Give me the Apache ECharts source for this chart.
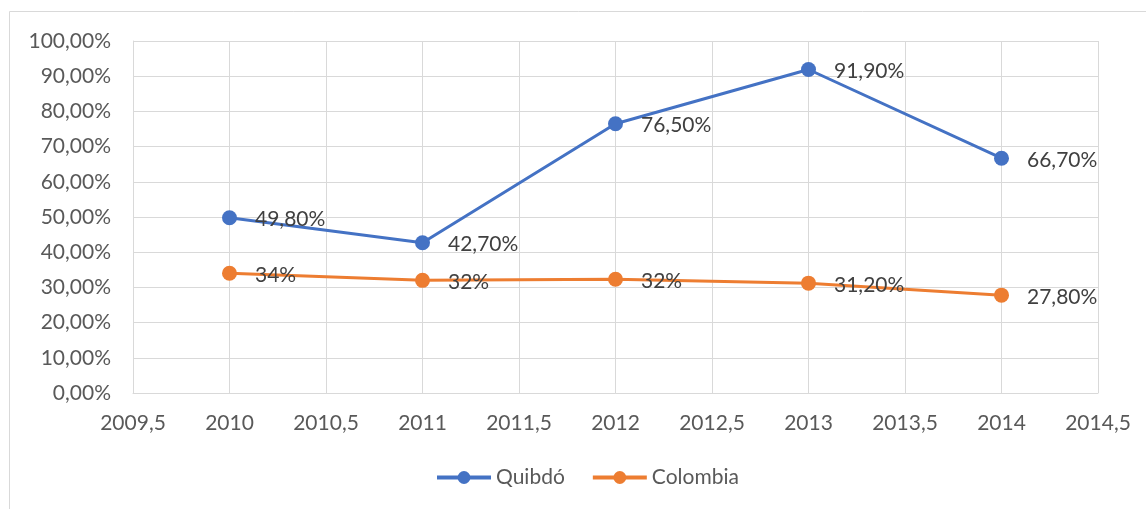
<!DOCTYPE html>
<html>
<head>
<meta charset="utf-8">
<script src="https://cdn.jsdelivr.net/npm/echarts@6/dist/echarts.min.js"></script>
<style>
  html, body { margin: 0; padding: 0; background: #fff; }
  #chart { width: 1146px; height: 509px; }
</style>
</head>
<body>
<div id="chart"></div>
<script>
// years on a value axis (Excel scatter style)
const years = [2010, 2011, 2012, 2013, 2014];
const quibdo = [49.8, 42.7, 76.5, 91.9, 66.7];
const colombia = [34, 32, 32.3, 31.2, 27.8];
// labels as shown in the original (mixed formats)
const quibdoLabels = ['49,80%', '42,70%', '76,50%', '91,90%', '66,70%'];
const colombiaLabels = ['34%', '32%', '32%', '31,20%', '27,80%'];

const font = 'Lato, "Open Sans", sans-serif';
const myChart = echarts.init(document.getElementById('chart'));

const pairs = (vals) => years.map((y, i) => [y, vals[i]]);

const labelStyle = (texts) => ({
  show: true,
  position: 'right',
  distance: 18,
  offset: [0, 2],
  color: '#404040',
  fontSize: 21,
  fontFamily: font,
  formatter: (p) => texts[p.dataIndex]
});

const option = {
  animation: false,
  graphic: [{
    type: 'rect',
    shape: { x: 9.5, y: 11.5, width: 1160, height: 520 },
    style: { fill: 'none', stroke: '#d9d9d9', lineWidth: 1 },
    silent: true
  }],
  grid: { left: 133, right: 48, top: 41, bottom: 116 },
  xAxis: {
    type: 'value',
    min: 2009.5,
    max: 2014.5,
    interval: 0.5,
    axisLine: { show: true, lineStyle: { color: '#d9d9d9' } },
    axisTick: { show: false },
    splitLine: { show: true, lineStyle: { color: '#d9d9d9', width: 1 } },
    axisLabel: {
      color: '#595959', fontSize: 21, fontFamily: font, margin: 20,
      formatter: (v) => String(v).replace('.', ',')
    }
  },
  yAxis: {
    type: 'value',
    min: 0,
    max: 100,
    interval: 10,
    axisLine: { show: true, lineStyle: { color: '#d9d9d9' } },
    axisTick: { show: false },
    splitLine: { show: true, lineStyle: { color: '#d9d9d9', width: 1 } },
    axisLabel: {
      color: '#595959', fontSize: 21, fontFamily: font, margin: 22,
      formatter: (v) => v.toFixed(2).replace('.', ',') + '%'
    }
  },
  legend: {
    bottom: 16,
    left: 430,
    itemWidth: 54,
    itemHeight: 16,
    itemGap: 26,
    lineStyle: { width: 4 },
    textStyle: { color: '#595959', fontSize: 21, fontFamily: font },
    data: ['Quibdó', 'Colombia']
  },
  series: [
    {
      name: 'Quibdó',
      type: 'line',
      data: pairs(quibdo),
      symbol: 'circle',
      symbolSize: 15,
      lineStyle: { color: '#4472C4', width: 3 },
      itemStyle: { color: '#4472C4' },
      label: labelStyle(quibdoLabels)
    },
    {
      name: 'Colombia',
      type: 'line',
      data: pairs(colombia),
      symbol: 'circle',
      symbolSize: 15,
      lineStyle: { color: '#ED7D31', width: 3 },
      itemStyle: { color: '#ED7D31' },
      label: labelStyle(colombiaLabels)
    }
  ]
};
myChart.setOption(option);
</script>
</body>
</html>
